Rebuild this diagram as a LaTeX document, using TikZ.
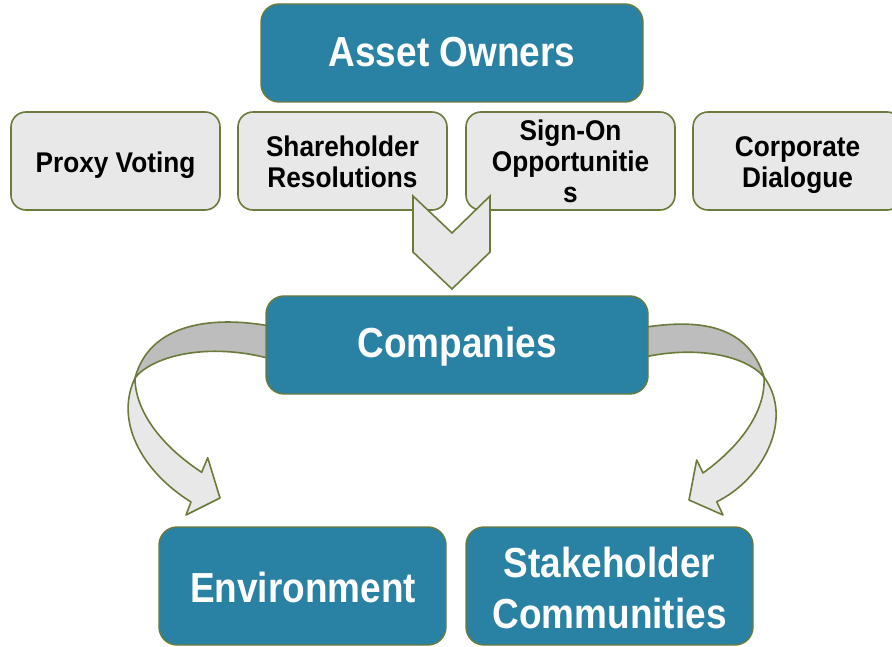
\documentclass[tikz,border=0pt]{standalone}
\usepackage{fontspec}
\newfontfamily\headfont[FakeStretch=0.88]{Liberation Sans}
\newfontfamily\tabfont[FakeStretch=0.92]{Liberation Sans}
\definecolor{teal1}{RGB}{41,130,164}
\definecolor{olive1}{RGB}{106,123,59}
\definecolor{paper1}{RGB}{232,232,232}
\definecolor{shade1}{RGB}{189,189,189}
\tikzset{
  tealbox/.style={draw=olive1, line width=1.4pt, fill=teal1, rounded corners=18pt,
    inner sep=0pt},
  graybox/.style={draw=olive1, line width=1.6pt, fill=paper1, rounded corners=15pt,
    inner sep=0pt, minimum width=209pt, minimum height=98pt},
  headtext/.style={anchor=base, inner sep=0pt, text=white,
    font=\headfont\bfseries\fontsize{42}{47}\selectfont},
  tabtext/.style={anchor=base, inner sep=0pt, text=black,
    font=\tabfont\bfseries\fontsize{28.5}{32}\selectfont},
  ribbon/.style={draw=olive1, line width=1.6pt, line join=round},
}
\begin{document}
\begin{tikzpicture}[x=1pt,y=-1pt]
\useasboundingbox (0,0) rectangle (892,647);
\fill[white] (0,0) rectangle (892,647);

% engagement tools
\node[graybox] (proxy) at (115.5,161) {};
\node[graybox] (resol) at (342.5,161) {};
\node[graybox] (signon) at (570.5,161) {};
\node[graybox] (dialog) at (797.5,161) {};
\node[tabtext] (proxyA) at (115.5,172.3) {Proxy Voting};
\node[tabtext] (resolA) at (342.5,157) {Shareholder};
\node[tabtext] (resolB) at (342.5,188) {Resolutions};
\node[tabtext] (signonA) at (570.5,140.5) {Sign-On};
\node[tabtext] (signonB) at (570.5,171.5) {Opportunitie};
\node[tabtext] (signonC) at (570.5,202.5) {s};
\node[tabtext] (dialogA) at (797.5,157) {Corporate};
\node[tabtext] (dialogB) at (797.5,188) {Dialogue};

% chevron pointing down to the companies
\draw[ribbon, fill=paper1, line join=miter] (413,196) -- (452,233) -- (490,196) -- (490,252)
  -- (452,289) -- (413,252) -- cycle;

% left twisted arrow: back side
\draw[ribbon, fill=shade1] (275,327) .. controls (215,315) and (150,322) .. (135,378)
  .. controls (150,358) and (205,340) .. (275,360) -- cycle;
% left twisted arrow: front side with head
\draw[ribbon, fill=paper1] (135,378) .. controls (115,420) and (140,470) .. (191,502)
  -- (186,515) -- (220,498) -- (207.7,457.7) -- (201.7,472.3)
  .. controls (160,445) and (135,410) .. (135,378) -- cycle;

% right twisted arrow: back side
\draw[ribbon, fill=shade1] (640,328) .. controls (700,318) and (748,325) .. (764,377)
  .. controls (745,355) and (695,345) .. (640,358) -- cycle;
% right twisted arrow: front side with head
\draw[ribbon, fill=paper1] (764,377) .. controls (795,420) and (762,480) .. (716.7,501.7)
  -- (723,515) -- (689,500) -- (696.7,460) -- (703,473)
  .. controls (742,445) and (766,410) .. (764,377) -- cycle;

% main actors
\node[tealbox, minimum width=382pt, minimum height=98pt] (owners) at (452,53) {};
\node[tealbox, minimum width=382pt, minimum height=98pt] (companies) at (457,345) {};
\node[tealbox, minimum width=287pt, minimum height=118pt] (environment) at (302.5,586) {};
\node[tealbox, minimum width=287pt, minimum height=118pt] (communities) at (609.5,586) {};
\node[headtext] (ownersA) at (452,67) {Asset Owners};
\node[headtext] (companiesA) at (457,357) {Companies};
\node[headtext] (environmentA) at (303,602) {Environment};
\node[headtext] (communitiesA) at (609.5,577.5) {Stakeholder};
\node[headtext] (communitiesB) at (609.5,628.5) {Communities};
\end{tikzpicture}
\end{document}
